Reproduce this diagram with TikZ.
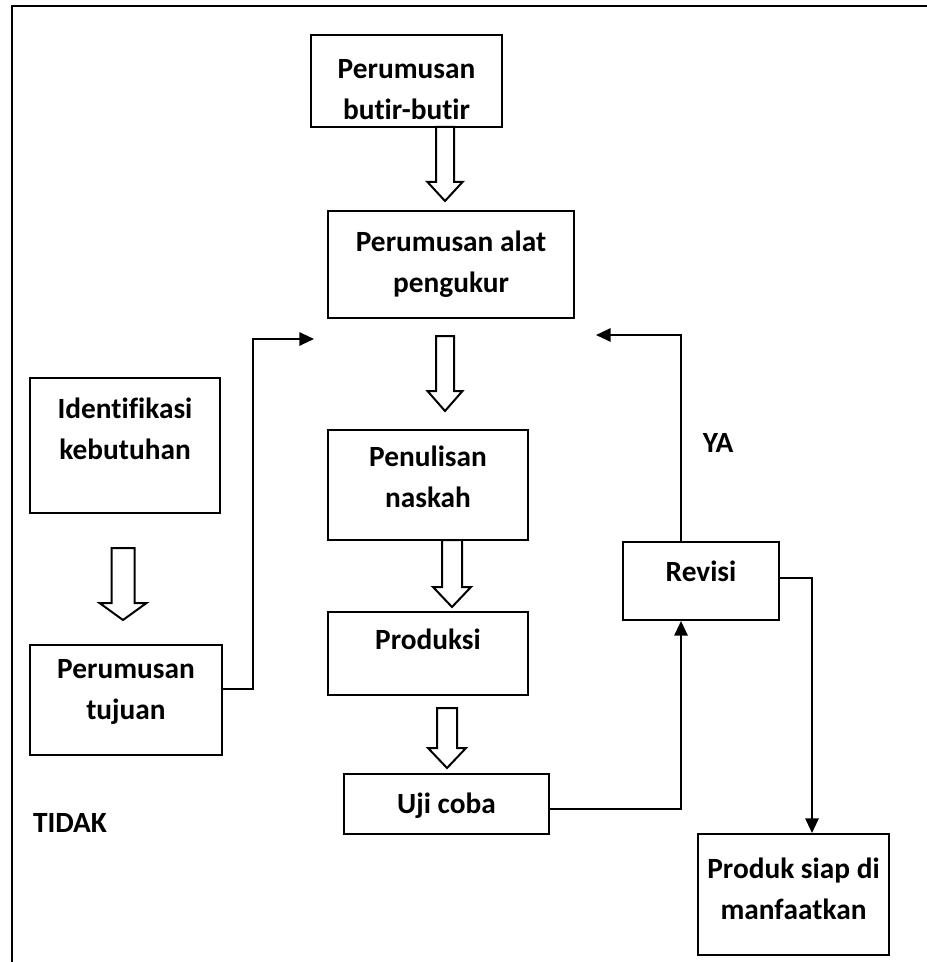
\documentclass[tikz,border=0pt]{standalone}
\usepackage{fontspec}
\setmainfont{Carlito}[Ligatures={NoCommon,NoRare,NoContextual},Contextuals=NoAlternate]
\usetikzlibrary{arrows.meta,calc}

% block arrow pointing down: centre x, top y, tip y, half shaft, half head, head length
\newcommand\hollowarrow[6]{%
  \draw[hollow] (#1-#4,#2) -- (#1-#4,#3-#6) -- (#1-#5,#3-#6) -- (#1,#3)
    -- (#1+#5,#3-#6) -- (#1+#4,#3-#6) -- (#1+#4,#2) -- cycle;}

\begin{document}
\begin{tikzpicture}[x=0.75pt,y=-0.75pt,
  box/.style 2 args={draw, line width=1.5pt, minimum width=#1*0.75pt,
    minimum height=#2*0.75pt, inner sep=0pt},
  lbl/.style={font=\fontsize{22}{30.75}\selectfont\bfseries, align=center, inner sep=0pt},
  conn/.style={line width=1.5pt, -{Triangle[length=11pt,width=10pt]}},
  hollow/.style={draw, line width=1.5pt, line join=miter, fill=white},
  frame/.style={line width=2pt}]

\useasboundingbox (0,0) rectangle (926,962);
\draw[frame] (12,975) -- (12,6) -- (940,6);

% main column
\node[box={191}{92}]  (b1) at (406.5,81)   {};
\node[lbl] (t1) at (406.5,89.5) {Perumusan\\but\kern0pt ir-but\kern0pt ir};
\node[box={246}{107}] (b2) at (451,264.5)  {};
\node[lbl] (t2) at (451,264) {Perumusan alat\\pengukur};
\node[box={200}{110}] (b3) at (428,485)    {};
\node[lbl] (t3) at (428,477) {Penulisan\\naskah};
\node[box={200}{83}]  (b4) at (428,653.5)  {};
\node[lbl] (t4) at (428,639) {Produksi};
\node[box={205}{60}]  (b5) at (446.5,804)  {};
\node[lbl] (t5) at (446.5,806) {Uji coba};

% left column
\node[box={190}{135}] (b8) at (125,445.5)  {};
\node[lbl] (t8) at (125,428.5) {Ident\kern0pt if\kern0pt ikasi\\kebutuhan};
\node[box={192}{110}] (b9) at (126,700)    {};
\node[lbl] (t9) at (126,692) {Perumusan\\tujuan};

% right column
\node[box={156}{78}]  (b6) at (701,581)    {};
\node[lbl] (t6) at (701,571) {Revisi};
\node[box={191}{121}] (b7) at (793.5,894.5) {};
\node[lbl] (t7) at (793.5,889) {Produk siap di\\manf\kern0pt aatkan};

\node[lbl] (ya) at (718,443) {YA};
\node[lbl] (tidak) at (70,823) {TIDAK};

% block arrows
\hollowarrow{445}{127}{201}{9}{17.5}{19}
\hollowarrow{445}{336}{411}{9}{17.5}{20}
\hollowarrow{452}{540}{607}{10}{19}{20}
\hollowarrow{447}{708}{768}{10}{19}{20}
\hollowarrow{123}{548}{620}{11.5}{23.5}{17}

% line connectors
\coordinate (in1) at (314,339);
\coordinate (in2) at (596,335);
\draw[conn] ($(b9.east)+(0,-11)$) -- ++(30,0) |- (in1);
\draw[conn] ($(b5.east)+(0,5)$) -| ($(b6.south)+(-20,0)$);
\draw[conn] ($(b6.north)+(-20,0)$) |- (in2);
\draw[conn] ($(b6.east)+(0,-3)$) -| ($(b7.north)+(18.5,0)$);
\end{tikzpicture}
\end{document}
